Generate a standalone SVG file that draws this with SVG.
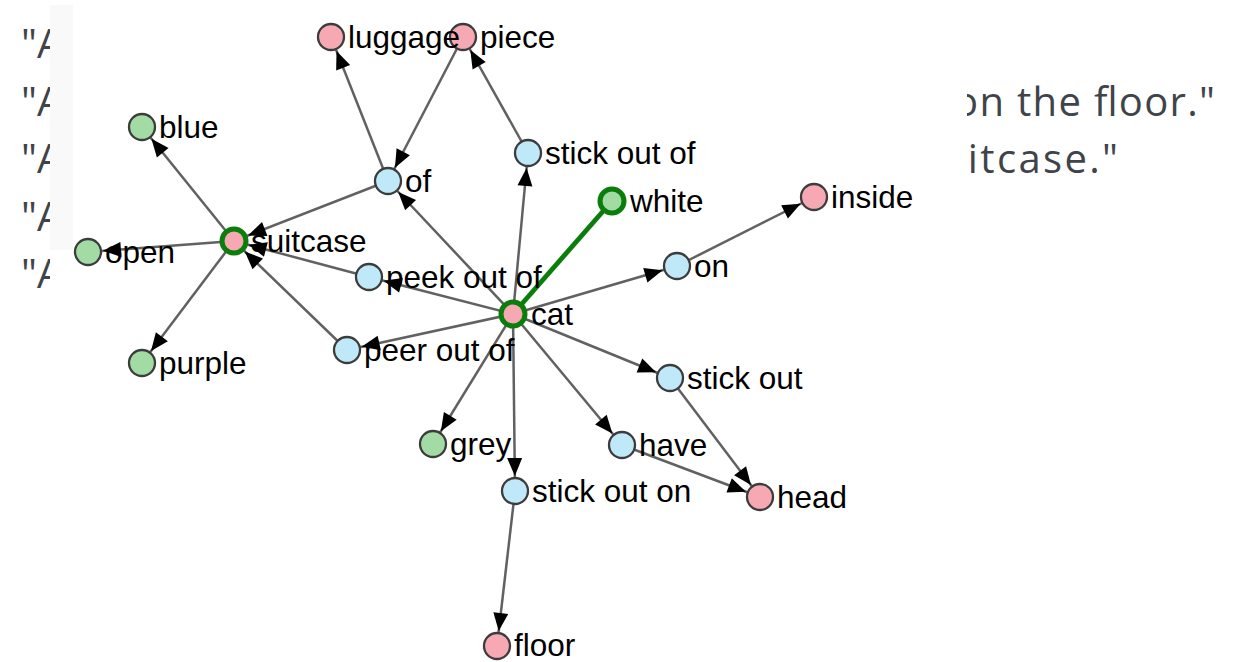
<svg xmlns="http://www.w3.org/2000/svg" width="1245" height="662" viewBox="0 0 1245 662">
<style>
.bg{font-family:"Open Sans","Liberation Sans",sans-serif;font-size:40px;fill:#3f444a}
.e{stroke:#616161;stroke-width:2.5;fill:none;marker-end:url(#arr)}
.n{stroke:#3c3c3c;stroke-width:2.3}
.hl{stroke:#0b7d0b;stroke-width:5}
.pink{fill:#f7a9b3}
.blue{fill:#bfe8f9}
.green{fill:#a3dba4}
.lbl{font-family:"Liberation Sans",Arial,sans-serif;font-size:31.5px;fill:#000}
</style>
<defs>
<marker id="arr" markerUnits="userSpaceOnUse" markerWidth="50" markerHeight="20" refX="33" refY="7.5" orient="auto" overflow="visible">
<path d="M0,0 L18,7.5 L0,15 z" fill="#000"/>
</marker>
</defs>
<rect width="1245" height="662" fill="#fff"/>
<g id="background-text">
<text class="bg" x="21" y="58">"A</text>
<text class="bg" x="21" y="116">"A</text>
<text class="bg" x="21" y="173">"A</text>
<text class="bg" x="21" y="231">"A</text>
<text class="bg" x="21" y="288">"A</text>
<text class="bg" x="954" y="116" textLength="261" lengthAdjust="spacing">on the floor."</text>
<text class="bg" x="941" y="173" textLength="177" lengthAdjust="spacing">uitcase."</text>
</g>
<rect x="50" y="0" width="917" height="662" fill="#fff"/>
<rect x="50" y="5" width="23" height="245" fill="#f9f9f9"/>
<g id="connectors">
<line class="e" x1="234" y1="241" x2="142" y2="127"/>
<line class="e" x1="234" y1="241" x2="88" y2="252"/>
<line class="e" x1="234" y1="241" x2="142" y2="363"/>
<line class="e" x1="388" y1="181" x2="234" y2="241"/>
<line class="e" x1="388" y1="181" x2="331" y2="37"/>
<line class="e" x1="463" y1="37" x2="388" y2="181"/>
<line class="e" x1="528" y1="153" x2="463" y2="37"/>
<line class="e" x1="513" y1="314" x2="528" y2="153"/>
<line class="e" x1="513" y1="314" x2="388" y2="181"/>
<line x1="513" y1="314" x2="612" y2="201" stroke="#0b7d0b" stroke-width="4.8"/>
<line class="e" x1="513" y1="314" x2="677" y2="266"/>
<line class="e" x1="677" y1="266" x2="814" y2="197"/>
<line class="e" x1="513" y1="314" x2="369" y2="277"/>
<line class="e" x1="369" y1="277" x2="234" y2="241"/>
<line class="e" x1="513" y1="314" x2="347" y2="350"/>
<line class="e" x1="347" y1="350" x2="234" y2="241"/>
<line class="e" x1="513" y1="314" x2="670" y2="378"/>
<line class="e" x1="513" y1="314" x2="622" y2="445"/>
<line class="e" x1="513" y1="314" x2="433" y2="444"/>
<line class="e" x1="513" y1="314" x2="515" y2="491"/>
<line class="e" x1="515" y1="491" x2="497" y2="646"/>
<line class="e" x1="670" y1="378" x2="760" y2="497"/>
<line class="e" x1="622" y1="445" x2="760" y2="497"/>
</g>
<g id="node-piece"><circle class="n pink" cx="463" cy="37" r="13"/><text class="lbl" x="480" y="48">piece</text></g>
<g id="node-luggage"><circle class="n pink" cx="331" cy="37" r="13"/><text class="lbl" x="348" y="48">luggage</text></g>
<g id="node-of"><circle class="n blue" cx="388" cy="181" r="13"/><text class="lbl" x="405" y="192">of</text></g>
<g id="node-stick-out-of"><circle class="n blue" cx="528" cy="153" r="13"/><text class="lbl" x="545" y="164">stick out of</text></g>
<g id="node-white"><circle class="hl green" cx="612" cy="201" r="12"/><text class="lbl" x="630" y="212">white</text></g>
<g id="node-inside"><circle class="n pink" cx="814" cy="197" r="13"/><text class="lbl" x="831" y="208">inside</text></g>
<g id="node-on"><circle class="n blue" cx="677" cy="266" r="13"/><text class="lbl" x="694" y="277">on</text></g>
<g id="node-blue"><circle class="n green" cx="142" cy="127" r="13"/><text class="lbl" x="159" y="138">blue</text></g>
<g id="node-open"><circle class="n green" cx="88" cy="252" r="13"/><text class="lbl" x="105" y="263">open</text></g>
<g id="node-purple"><circle class="n green" cx="142" cy="363" r="13"/><text class="lbl" x="159" y="374">purple</text></g>
<g id="node-suitcase"><circle class="hl pink" cx="234" cy="241" r="12"/><text class="lbl" x="251" y="252">suitcase</text></g>
<g id="node-peek-out-of"><circle class="n blue" cx="369" cy="277" r="13"/><text class="lbl" x="386" y="288">peek out of</text></g>
<g id="node-peer-out-of"><circle class="n blue" cx="347" cy="350" r="13"/><text class="lbl" x="364" y="361">peer out of</text></g>
<g id="node-cat"><circle class="hl pink" cx="513" cy="314" r="12"/><text class="lbl" x="531" y="325">cat</text></g>
<g id="node-stick-out"><circle class="n blue" cx="670" cy="378" r="13"/><text class="lbl" x="687" y="389">stick out</text></g>
<g id="node-grey"><circle class="n green" cx="433" cy="444" r="13"/><text class="lbl" x="450" y="455">grey</text></g>
<g id="node-have"><circle class="n blue" cx="622" cy="445" r="13"/><text class="lbl" x="639" y="456">have</text></g>
<g id="node-stick-out-on"><circle class="n blue" cx="515" cy="491" r="13"/><text class="lbl" x="532" y="502">stick out on</text></g>
<g id="node-head"><circle class="n pink" cx="760" cy="497" r="13"/><text class="lbl" x="777" y="508">head</text></g>
<g id="node-floor"><circle class="n pink" cx="497" cy="646" r="13"/><text class="lbl" x="514" y="656">floor</text></g>
</svg>
